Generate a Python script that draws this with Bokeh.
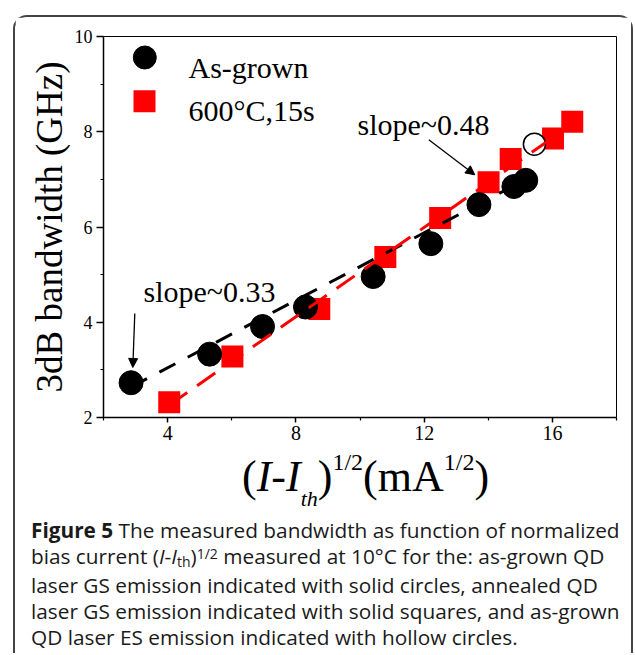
import math
from bokeh.plotting import figure
from bokeh.layouts import column
from bokeh.models import Range1d, FixedTicker, Label, Arrow, NormalHead, Div
from bokeh.embed import file_html
from bokeh.resources import INLINE

# ---------------- data ----------------
as_grown_x = [2.86, 5.31, 6.96, 8.30, 10.41, 12.21, 13.71, 14.80, 15.17]
as_grown_y = [2.73, 3.33, 3.91, 4.32, 4.96, 5.65, 6.47, 6.85, 6.98]
annealed_x = [4.05, 6.02, 8.73, 10.79, 12.50, 14.01, 14.70, 16.02, 16.62]
annealed_y = [2.32, 3.28, 4.28, 5.37, 6.19, 6.94, 7.43, 7.86, 8.21]
es_x = [15.44]
es_y = [7.74]
as_grown_fit_x = [2.86, 15.17]
as_grown_fit_y = [2.64, 7.00]
annealed_fit_x = [4.05, 16.62]
annealed_fit_y = [2.26, 8.16]
x_major = [4, 8, 12, 16]
x_minor = [2, 6, 10, 14, 18]
y_major = [2, 4, 6, 8, 10]
y_minor = [3, 5, 7, 9]
legend_labels = ["As-grown", "600\u00b0C,15s"]
slope_labels = ["slope~0.33", "slope~0.48"]
y_title = "3dB bandwidth (GHz)"

# ---------------- geometry ----------------
OX, OY = 15, 17          # page position of the figure (inside the rounded frame)
W, H = 616, 433
ML, MR, MT, MB = 88, 15, 19, 33
X0, X1, Y0, Y1 = 2, 18, 2, 10

p = figure(width=W, height=H, output_backend="svg", toolbar_location=None,
           x_range=Range1d(X0, X1), y_range=Range1d(Y0, Y1),
           min_border_left=ML, min_border_right=MR, min_border_top=MT, min_border_bottom=MB,
           background_fill_color="white", border_fill_color="white", margin=0)
p.xgrid.visible = False
p.ygrid.visible = False
p.outline_line_color = "black"
p.outline_line_width = 1

SX = (W - ML - MR) / (X1 - X0)
SY = (H - MT - MB) / (Y1 - Y0)


def dx(X):  # page pixel -> data x
    return X0 + (X - OX - ML) / SX


def dy(Y):  # page pixel -> data y
    return Y1 - (Y - OY - MT) / SY


# axes
p.xaxis.ticker = FixedTicker(ticks=x_major, minor_ticks=x_minor)
p.yaxis.ticker = FixedTicker(ticks=y_major, minor_ticks=y_minor)
for ax in (p.xaxis[0], p.yaxis[0]):
    ax.axis_line_width = 1.5
    ax.axis_line_color = "black"
    ax.major_tick_line_width = 1.5
    ax.minor_tick_line_width = 1.2
    ax.major_tick_line_color = "black"
    ax.minor_tick_line_color = "black"
    ax.major_tick_in = 0
    ax.minor_tick_in = 0
    ax.major_label_text_font = "Liberation Serif"
    ax.major_label_text_color = "black"
p.xaxis.major_tick_out = 5
p.xaxis.minor_tick_out = 3
p.xaxis.major_label_standoff = 3
p.xaxis.major_label_text_font_size = "20px"
p.yaxis.major_tick_out = 7
p.yaxis.minor_tick_out = 3
p.yaxis.major_label_standoff = 4
p.yaxis.major_label_text_font_size = "18px"
p.yaxis.axis_label = y_title
p.yaxis.axis_label_text_font = "Liberation Serif"
p.yaxis.axis_label_text_font_size = "37px"
p.yaxis.axis_label_text_font_style = "normal"
p.yaxis.axis_label_text_color = "black"
p.yaxis.axis_label_standoff = 2

# data marks
p.scatter(annealed_x, annealed_y, marker="square", size=22,
          fill_color="#ff0000", line_color="#ff0000", line_width=0)
p.scatter(as_grown_x, as_grown_y, marker="circle", size=24,
          fill_color="black", line_color="black")
p.scatter(es_x, es_y, marker="circle", size=22,
          fill_color="white", line_color="black", line_width=1.5)
p.line(as_grown_fit_x, as_grown_fit_y, line_color="black", line_width=3, line_dash="18 14")
p.line(annealed_fit_x, annealed_fit_y, line_color="#ff0000", line_width=3, line_dash="22 12")


def txt(s, X, Y, size, font="Liberation Serif", style="normal", align="left",
        baseline="alphabetic", angle=0, color="black"):
    p.add_layout(Label(x=dx(X), y=dy(Y), text=s, text_font=font,
                       text_font_size=f"{size}px", text_font_style=style,
                       text_align=align, text_baseline=baseline, angle=angle,
                       text_color=color))


# legend
p.scatter([dx(144.3)], [dy(57)], marker="circle", size=23, fill_color="black", line_color="black")
p.scatter([dx(144)], [dy(100.7)], marker="square", size=22, fill_color="#ff0000",
          line_color="#ff0000", line_width=0)
txt(legend_labels[0], 188, 66.5, 30)
txt(legend_labels[1], 188, 110, 30)

# slope annotations
txt(slope_labels[0], 143, 290.5, 30)
txt(slope_labels[1], 357, 123.5, 30)
p.add_layout(Arrow(end=NormalHead(size=9, fill_color="black", line_color="black", line_width=1),
                   x_start=dx(134.3), y_start=dy(313), x_end=dx(132.3), y_end=dy(367),
                   line_width=1.3, line_color="black"))
p.add_layout(Arrow(end=NormalHead(size=9, fill_color="black", line_color="black", line_width=1),
                   x_start=dx(428.3), y_start=dy(139.3), x_end=dx(474.3), y_end=dy(174.3),
                   line_width=1.3, line_color="black"))

# ---------------- x-axis title + caption (HTML text) ----------------
xtitle = (
    '<div style="font-family:\'Liberation Serif\',serif;font-size:44px;line-height:50px;'
    'white-space:nowrap;color:black;margin-top:2px;padding-left:227px;">'
    '(<i>I</i>-<i>I</i>'
    '<span style="font-size:22px;font-style:italic;position:relative;top:15px;">th</span>)'
    '<span style="font-size:24px;position:relative;top:-21px;">1/2</span>'
    '(mA<span style="font-size:24px;position:relative;top:-21px;">1/2</span>)'
    '</div>'
)
caption = (
    '<div style="font-family:\'Open Sans\',sans-serif;font-size:20.8px;line-height:26px;'
    'white-space:nowrap;color:#1a1a1a;margin-top:8px;padding-left:16px;">'
    '<b>Figure 5</b> The measured bandwidth as function of normalized<br>'
    'bias current (<i>I</i>-<i>I</i>'
    '<span style="font-size:14px;position:relative;top:3px;">th</span>)'
    '<span style="font-size:14px;position:relative;top:-5px;">1/2</span>'
    ' measured at 10\u00b0C for the: as-grown QD<br>'
    'laser GS emission indicated with solid circles, annealed QD<br>'
    'laser GS emission indicated with solid squares, and as-grown<br>'
    'QD laser ES emission indicated with hollow circles.'
    '</div>'
)
cap = Div(text=xtitle + caption, width=W, height=203, margin=0,
          styles={"background": "white"})

layout = column(p, cap, margin=(15, 0, 0, 13),
                styles={"border": "2px solid #444444", "border-bottom": "none",
                        "border-radius": "14px 14px 0 0", "background": "white"})

open("out.html", "w").write(file_html(layout, INLINE))
